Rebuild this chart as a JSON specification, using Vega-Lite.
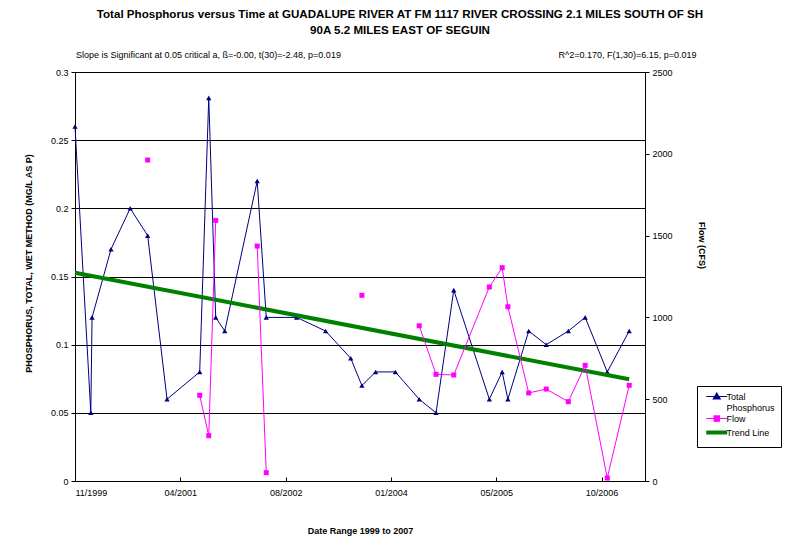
{
  "$schema": "https://vega.github.io/schema/vega-lite/v6.json",
  "width": 570,
  "height": 409,
  "autosize": "none",
  "padding": {"left": 75, "top": 72, "right": 154, "bottom": 55},
  "background": "white",
  "config": {
    "view": {"stroke": null},
    "font": "Liberation Sans",
    "axis": {"labelFont": "Liberation Sans", "titleFont": "Liberation Sans", "labelColor": "black", "titleColor": "black", "domainColor": "black", "tickColor": "black", "labelFontSize": 9, "titleFontSize": 9, "titleFontWeight": "bold"}
  },
  "title": {
    "text": ["Total Phosphorus versus Time at GUADALUPE RIVER AT FM 1117 RIVER CROSSING 2.1 MILES SOUTH OF SH", "90A 5.2 MILES EAST OF SEGUIN"],
    "subtitle": "Slope is Significant at 0.05 critical a, ß=-0.00, t(30)=-2.48, p=0.019\u00a0\u00a0\u00a0\u00a0\u00a0\u00a0\u00a0\u00a0\u00a0\u00a0\u00a0\u00a0\u00a0\u00a0\u00a0\u00a0\u00a0\u00a0\u00a0\u00a0\u00a0\u00a0\u00a0\u00a0\u00a0\u00a0\u00a0\u00a0\u00a0\u00a0\u00a0\u00a0\u00a0\u00a0\u00a0\u00a0\u00a0\u00a0\u00a0\u00a0\u00a0\u00a0\u00a0\u00a0\u00a0\u00a0\u00a0\u00a0\u00a0\u00a0\u00a0\u00a0\u00a0\u00a0\u00a0\u00a0\u00a0\u00a0\u00a0\u00a0\u00a0\u00a0\u00a0\u00a0\u00a0\u00a0\u00a0\u00a0\u00a0\u00a0\u00a0\u00a0\u00a0\u00a0\u00a0\u00a0\u00a0\u00a0\u00a0\u00a0\u00a0\u00a0\u00a0\u00a0\u00a0\u00a0\u00a0R^2=0.170, F(1,30)=6.15, p=0.019\u00a0\u00a0\u00a0\u00a0\u00a0\u00a0\u00a0\u00a0\u00a0\u00a0\u00a0\u200b",
    "anchor": "middle",
    "frame": "group",
    "dx": 40,
    "font": "Liberation Sans",
    "fontSize": 11.6,
    "fontWeight": "bold",
    "lineHeight": 16,
    "color": "black",
    "subtitleFont": "Liberation Sans",
    "subtitleFontSize": 9,
    "subtitleColor": "black",
    "subtitlePadding": 14,
    "offset": 8
  },
  "data": {
    "values": [
      {"date": "1999-11-29T00:00", "tp": 0.26, "flow": null},
      {"date": "2000-02-12T00:00", "tp": 0.05, "flow": null},
      {"date": "2000-02-18T00:00", "tp": 0.12, "flow": null},
      {"date": "2000-05-18T00:00", "tp": 0.17, "flow": null},
      {"date": "2000-08-17T00:00", "tp": 0.20, "flow": null},
      {"date": "2000-11-08T00:00", "tp": 0.18, "flow": 1962},
      {"date": "2001-02-08T00:00", "tp": 0.06, "flow": null},
      {"date": "2001-07-13T00:00", "tp": 0.08, "flow": 524},
      {"date": "2001-08-25T00:00", "tp": 0.281, "flow": 277},
      {"date": "2001-09-27T00:00", "tp": 0.12, "flow": 1593},
      {"date": "2001-11-09T00:00", "tp": 0.11, "flow": null},
      {"date": "2002-04-12T00:00", "tp": 0.22, "flow": 1436},
      {"date": "2002-05-25T00:00", "tp": 0.12, "flow": 51},
      {"date": "2002-10-16T00:00", "tp": 0.12, "flow": null},
      {"date": "2003-03-03T00:00", "tp": 0.11, "flow": null},
      {"date": "2003-06-30T00:00", "tp": 0.09, "flow": null},
      {"date": "2003-08-22T00:00", "tp": 0.07, "flow": 1135},
      {"date": "2003-10-26T00:00", "tp": 0.08, "flow": null},
      {"date": "2004-01-28T00:00", "tp": 0.08, "flow": null},
      {"date": "2004-05-20T00:00", "tp": 0.06, "flow": 949},
      {"date": "2004-08-08T00:00", "tp": 0.05, "flow": 652},
      {"date": "2004-10-31T00:00", "tp": 0.14, "flow": 648},
      {"date": "2005-04-18T00:00", "tp": 0.06, "flow": 1186},
      {"date": "2005-06-18T00:00", "tp": 0.08, "flow": 1304},
      {"date": "2005-07-15T00:00", "tp": 0.06, "flow": 1065},
      {"date": "2005-10-22T00:00", "tp": 0.11, "flow": 538},
      {"date": "2006-01-13T00:00", "tp": 0.10, "flow": 562},
      {"date": "2006-04-28T00:00", "tp": 0.11, "flow": 485},
      {"date": "2006-07-17T00:00", "tp": 0.12, "flow": 707},
      {"date": "2006-10-30T00:00", "tp": 0.08, "flow": 18},
      {"date": "2007-02-11T00:00", "tp": 0.11, "flow": 585}
    ]
  },
  "layer": [
    {
      "layer": [
        {
          "mark": {"type": "line", "strokeWidth": 1},
          "encoding": {
            "x": {"field": "date", "type": "temporal"},
            "y": {"field": "tp", "type": "quantitative"},
            "color": {"datum": "Total Phosphorus", "type": "nominal"}
          }
        },
        {
          "mark": {"type": "point", "shape": "triangle-up", "filled": true, "size": 28, "opacity": 1},
          "encoding": {
            "x": {"field": "date", "type": "temporal"},
            "y": {"field": "tp", "type": "quantitative"},
            "color": {"datum": "Total Phosphorus", "type": "nominal"}
          }
        },
        {
          "data": {"values": [
            {"date": "1999-11-29T00:00", "trend": 0.1528},
            {"date": "2007-02-11T00:00", "trend": 0.0746}
          ]},
          "mark": {"type": "line", "strokeWidth": 4},
          "encoding": {
            "x": {"field": "date", "type": "temporal"},
            "y": {"field": "trend", "type": "quantitative"},
            "color": {"datum": "Trend Line", "type": "nominal"}
          }
        }
      ],
      "encoding": {
        "x": {
          "field": "date", "type": "temporal",
          "scale": {"domain": [{"year": 1999, "month": 11, "date": 29}, {"year": 2007, "month": 4, "date": 27}], "nice": false},
          "axis": {
            "title": "Date Range 1999 to 2007",
            "values": [{"year": 1999, "month": 11, "date": 29}, {"year": 2001, "month": 4, "date": 12}, {"year": 2002, "month": 8, "date": 25}, {"year": 2004, "month": 1, "date": 7}, {"year": 2005, "month": 5, "date": 21}, {"year": 2006, "month": 10, "date": 3}],
            "format": "%m/%Y",
            "grid": false,
            "tickSize": -4,
            "labelPadding": 11,
            "labelAngle": 0,
            "titleY": 49,
            "titleBaseline": "middle"
          }
        },
        "y": {
          "type": "quantitative",
          "scale": {"domain": [0, 0.3], "nice": false, "zero": true},
          "axis": {
            "title": "PHOSPHORUS, TOTAL, WET METHOD (MG/L AS P)",
            "orient": "left",
            "values": [0, 0.05, 0.1, 0.15, 0.2, 0.25, 0.3],
            "format": "~g",
            "grid": true,
            "gridColor": "black",
            "gridWidth": 1,
            "gridOpacity": 1,
            "tickSize": 4,
            "labelPadding": 3,
            "titleX": -47,
            "titleY": 191,
            "titleBaseline": "middle"
          }
        }
      }
    },
    {
      "layer": [
        {
          "mark": {"type": "line", "strokeWidth": 1},
          "encoding": {
            "x": {"field": "date", "type": "temporal"},
            "y": {"field": "flow", "type": "quantitative"},
            "color": {"datum": "Flow", "type": "nominal"}
          }
        },
        {
          "mark": {"type": "point", "shape": "square", "filled": true, "size": 25, "opacity": 1},
          "encoding": {
            "x": {"field": "date", "type": "temporal"},
            "y": {"field": "flow", "type": "quantitative"},
            "color": {"datum": "Flow", "type": "nominal"}
          }
        }
      ],
      "encoding": {
        "y": {
          "type": "quantitative",
          "scale": {"domain": [0, 2500], "nice": false},
          "axis": {
            "title": "Flow (CFS)",
            "orient": "right",
            "values": [0, 500, 1000, 1500, 2000, 2500],
            "format": "d",
            "grid": false,
            "tickSize": 4,
            "labelPadding": 3,
            "titleX": 56,
            "titleY": 173,
            "titleBaseline": "middle"
          }
        }
      }
    }
  ],
  "encoding": {
    "color": {
      "type": "nominal",
      "scale": {"domain": ["Total Phosphorus", "Flow", "Trend Line"], "range": ["#000080", "#FF00FF", "#008000"]},
      "legend": {
        "orient": "none",
        "legendX": 622,
        "legendY": 314,
        "title": null,
        "fillColor": "white",
        "strokeColor": "black",
        "padding": 6,
        "labelFont": "Liberation Sans",
        "labelFontSize": 9,
        "labelColor": "black",
        "labelOffset": 14.5,
        "rowPadding": 0,
        "symbolType": "stroke",
        "symbolSize": 441,
        "symbolStrokeWidth": 1.5,
        "labelExpr": "datum.label == 'Total Phosphorus' ? ['Total', 'Phosphorus'] : datum.label",
        "encoding": {
          "symbols": {
            "shape": {"value": {"expr": "datum.value == 'Total Phosphorus' ? 'M-0.12,0H1.88M0.88,-0.32L1.21,0.24H0.55Z' : datum.value == 'Flow' ? 'M-0.12,0H1.88M0.63,-0.25H1.13V0.25H0.63Z' : 'M-0.12,0H1.88'"}},
            "fill": {"value": {"expr": "datum.value == 'Total Phosphorus' ? '#000080' : datum.value == 'Flow' ? '#FF00FF' : '#008000'"}},
            "stroke": {"value": {"expr": "datum.value == 'Total Phosphorus' ? '#000080' : datum.value == 'Flow' ? '#FF00FF' : '#008000'"}},
            "strokeWidth": {"value": {"expr": "datum.value == 'Trend Line' ? 4 : 1.2"}},
            "opacity": {"value": 1}
          }
        }
      }
    }
  },
  "resolve": {"scale": {"y": "independent"}}
}
